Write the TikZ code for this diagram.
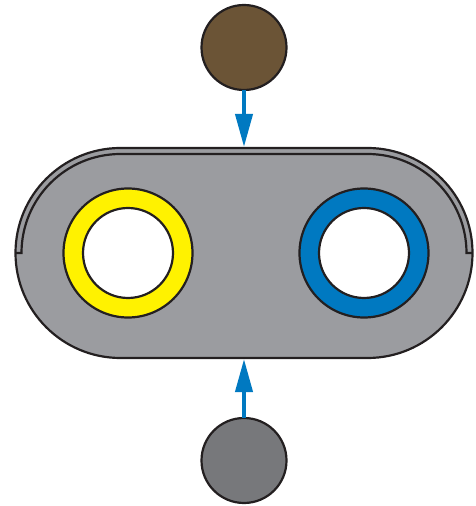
\documentclass[tikz,border=0pt]{standalone}
\usetikzlibrary{arrows.meta, shapes.misc}
\definecolor{ink}{HTML}{231F20}
\definecolor{plate}{HTML}{9B9CA0}
\definecolor{mud}{HTML}{6B5436}
\definecolor{ash}{HTML}{77787B}
\definecolor{sea}{HTML}{0079C1}
\definecolor{lemon}{HTML}{FFF200}
\begin{document}
\begin{tikzpicture}[x=1pt, y=1pt]
\tikzstyle{every node} = [circle, draw=ink, line width=2.2pt, inner sep=0pt, outer sep=0pt]
\tikzstyle{flow} = [draw=sea, line width=4pt, -{Triangle[width=17pt, length=33pt]}, shorten >=1pt]
\useasboundingbox (0,0) rectangle (475,506);
\node[shape = rounded rectangle, rounded rectangle arc length=180, fill=plate, minimum width=457pt, minimum height=210pt] (body) at (244, 253) {};
\draw[ink, line width=2.2pt] (body.west) -- ++(6,0) arc[start angle=180, end angle=90, radius=99] -- ++(247,0) arc[start angle=90, end angle=0, radius=99] -- ++(6,0);
\node[fill=lemon, minimum size=129pt] (lring) at (128, 253) {};
\node[fill=white, minimum size=90pt] (lbore) at (128, 253) {};
\node[fill=sea, minimum size=129pt] (rring) at (364, 253) {};
\node[fill=white, minimum size=90pt] (rbore) at (364, 253) {};
\node[fill=mud, minimum size=85pt] (feed) at (244, 458.5) {};
\node[fill=ash, minimum size=85pt] (drain) at (244, 45.5) {};
\foreach \from/\to in {feed/body, drain/body}
\draw [flow] (\from) -- (\to);
\end{tikzpicture}
\end{document}
